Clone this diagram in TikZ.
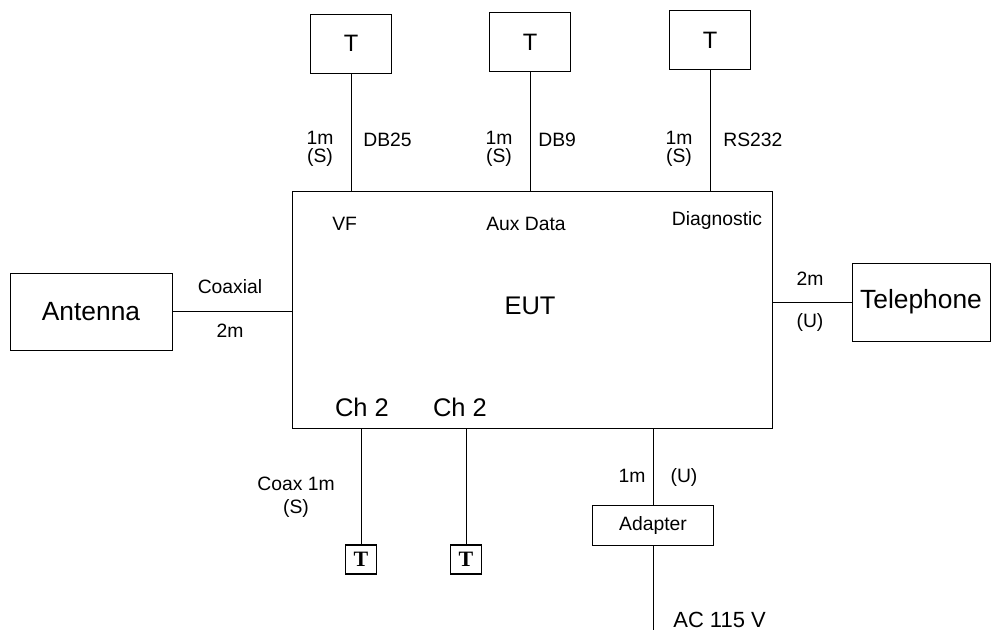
\documentclass[tikz,border=0pt]{standalone}
\usepackage{fontspec}
\setmainfont{Liberation Sans}
\newfontfamily\serifT{Liberation Serif}
\usetikzlibrary{positioning}

\begin{document}
\begin{tikzpicture}[x=0.02cm, y=-0.02cm,
          unit/.style={rectangle, draw, line width=0.45pt, inner sep=1pt,
                       align=center},
          lbl/.style={font=\fontsize{11}{12}\selectfont, inner sep=0pt,
                      align=center},
          big/.style={font=\fontsize{15}{17}\selectfont, inner sep=0pt},
          wire/.style={line width=0.45pt}
        ]
        \useasboundingbox (0,0) rectangle (991,630);

        % equipment under test
        \node[unit, minimum width=9.6cm, minimum height=4.74cm]
              (eut) at (532, 309.5) {};
        \node[big, font=\fontsize{14.5}{17}\selectfont, anchor=base]
              (eutname) at (530, 314) {EUT};
        \node[lbl, anchor=base west] (vf)   at (332, 230) {VF};
        \node[lbl, anchor=base]      (aux)  at (526, 230) {Aux Data};
        \node[lbl, anchor=base]      (diag) at (717, 225) {Diagnostic};
        \node[big, font=\fontsize{14.5}{17}\selectfont, anchor=base]
              (cha) at (362, 416) {Ch 2};
        \node[big, font=\fontsize{14.5}{17}\selectfont, anchor=base]
              (chb) at (460, 416) {Ch 2};

        % terminals on top
        \node[unit, minimum width=1.62cm, minimum height=1.18cm,
              font=\fontsize{13.5}{16}\selectfont] (t1) at (351, 43.5) {T};
        \node[unit, minimum width=1.62cm, minimum height=1.18cm,
              font=\fontsize{13.5}{16}\selectfont] (t2) at (530, 42) {T};
        \node[unit, minimum width=1.62cm, minimum height=1.18cm,
              font=\fontsize{13.5}{16}\selectfont] (t3) at (710, 40) {T};

        \foreach \n in {t1, t2, t3} {
          \draw[wire] (\n.south) -- (\n.south |- eut.north);
        }

        \node[lbl] (len1) at (320, 149) {1m\\[-2pt](S)};
        \node[lbl] (len2) at (499, 149) {1m\\[-2pt](S)};
        \node[lbl] (len3) at (679, 149) {1m\\[-2pt](S)};
        \node[lbl, anchor=base west] (db25)  at (363, 146) {DB25};
        \node[lbl, anchor=base west] (db9)   at (538, 146) {DB9};
        \node[lbl, anchor=base west] (rs232) at (723, 146) {RS232};

        % antenna
        \node[unit, big, minimum width=3.24cm, minimum height=1.54cm]
              (ant) at (91, 311.5) {Antenna};
        \draw[wire] (ant.east) -- (ant.east -| eut.west);
        \node[lbl, anchor=base] (coaxial) at (230, 293) {Coaxial};
        \node[lbl, anchor=base] (antlen)  at (230, 337) {2m};

        % telephone
        \node[unit, big, font=\fontsize{15}{17}\selectfont,
              minimum width=2.76cm, minimum height=1.56cm]
              (tel) at (921, 302) {Telephone};
        \draw[wire] (tel.west) -- (tel.west -| eut.east);
        \node[lbl, anchor=base] (tellen) at (810, 285) {2m};
        \node[lbl, anchor=base] (telu)   at (810, 327) {(U)};

        % coax terminals below
        \node[unit, line width=0.9pt, minimum width=0.62cm,
              minimum height=0.58cm, inner sep=0pt,
              font=\serifT\bfseries\fontsize{12.5}{14}\selectfont]
              (tb1) at (361, 559.5) {T};
        \node[unit, line width=0.9pt, minimum width=0.62cm,
              minimum height=0.58cm, inner sep=0pt,
              font=\serifT\bfseries\fontsize{12.5}{14}\selectfont]
              (tb2) at (466, 559.5) {T};
        \foreach \n in {tb1, tb2} {
          \draw[wire] (\n.north |- eut.south) -- (\n.north);
        }
        \node[lbl, align=center] (coaxlen) at (296, 497) {Coax 1m\\[1pt](S)};

        % power
        \node[unit, lbl, draw, inner sep=1pt, minimum width=2.42cm,
              minimum height=0.8cm] (adapter) at (653, 525) {Adapter};
        \draw[wire] (adapter.north |- eut.south) -- (adapter.north);
        \coordinate (mains) at (653, 630);
        \draw[wire] (adapter.south) -- (mains);
        \node[lbl, anchor=base] (pwrlen) at (632, 482) {1m};
        \node[lbl, anchor=base] (pwru)   at (684, 482) {(U)};
        \node[lbl, font=\fontsize{12.5}{14}\selectfont, anchor=base west]
              (ac) at (673, 627) {AC 115 V};
      \end{tikzpicture}
\end{document}
